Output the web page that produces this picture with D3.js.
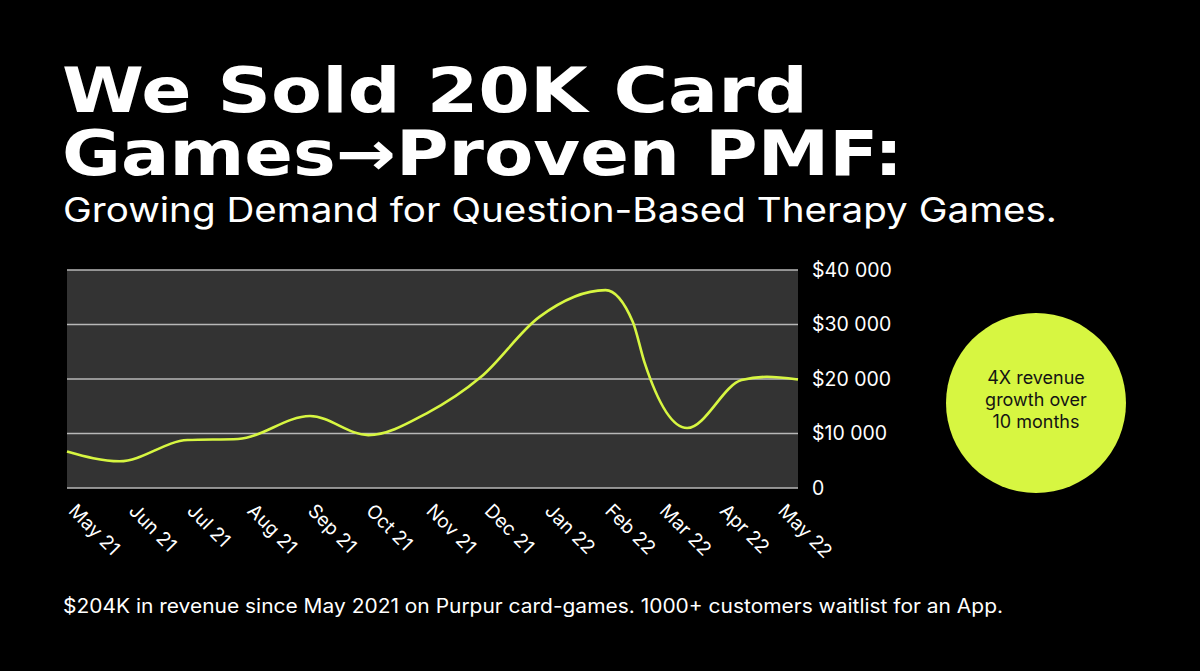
<!DOCTYPE html>
<html>
<head>
<meta charset="utf-8">
<script src="https://cdn.jsdelivr.net/npm/d3@7"></script>
<style>
  html, body { margin: 0; padding: 0; background: #000; }
  svg { display: block; }
</style>
</head>
<body>
<svg id="chart" width="1200" height="671"></svg>
<script>
// ---- data ----
const pointDates = ["2021-05-01","2021-05-28","2021-07-02","2021-07-28","2021-09-03","2021-10-03",
                    "2021-11-02","2021-11-30","2021-12-30","2022-02-02","2022-02-16","2022-02-22",
                    "2022-03-16","2022-04-13","2022-04-26","2022-05-12"];
const revenue = [6700, 4900, 8800, 9000, 13200, 9700,
                 13700, 20400, 31400, 36300, 30500, 23100,
                 11000, 19800, 20400, 19900];
const monthStarts = ["2021-05-01","2021-06-01","2021-07-01","2021-08-01","2021-09-01","2021-10-01",
                     "2021-11-01","2021-12-01","2022-01-01","2022-02-01","2022-03-01","2022-04-01","2022-05-01"];
const monthLabels = ["May 21","Jun 21","Jul 21","Aug 21","Sep 21","Oct 21",
                     "Nov 21","Dec 21","Jan 22","Feb 22","Mar 22","Apr 22","May 22"];
const yTicks = [0, 10000, 20000, 30000, 40000];
const yTickLabels = ["0", "$10 000", "$20 000", "$30 000", "$40 000"];
const domainEnd = "2022-05-12";

const titleLines = ["We Sold 20K Card", "Games\u2192Proven PMF:"];
const subtitle = "Growing Demand for Question-Based Therapy Games.";
const footnote = "$204K in revenue since May 2021 on Purpur card-games. 1000+ customers waitlist for an App.";
const badgeLines = ["4X revenue", "growth over", "10 months"];

// ---- layout ----
const svg = d3.select("#chart");
const W = 1200, H = 671;
const plot = { left: 67, right: 798, top: 270, bottom: 488 };
const lime = "#D7F641";
const parse = d3.utcParse("%Y-%m-%d");

svg.append("rect").attr("width", W).attr("height", H).attr("fill", "#000");

// Title (one text element, two lines)
const title = svg.append("text").attr("font-family", "DejaVu Sans").attr("font-weight", "bold")
  .attr("fill", "#fff").attr("font-size", 62);
title.append("tspan").attr("x", 62).attr("y", 112)
  .attr("textLength", 746).attr("lengthAdjust", "spacingAndGlyphs").text(titleLines[0]);
title.append("tspan").attr("x", 62).attr("y", 174.5)
  .attr("textLength", 841).attr("lengthAdjust", "spacingAndGlyphs").text(titleLines[1]);

svg.append("text").attr("x", 63).attr("y", 222).attr("font-family", "Inter").attr("font-size", 34)
  .attr("fill", "#fff").attr("textLength", 994).attr("lengthAdjust", "spacingAndGlyphs").text(subtitle);

// Scales
const x = d3.scaleUtc().domain([parse(pointDates[0]), parse(domainEnd)]).range([plot.left, plot.right]);
const y = d3.scaleLinear().domain([0, 40000]).range([plot.bottom, plot.top]);

// Plot background
svg.append("rect").attr("x", plot.left).attr("y", plot.top)
  .attr("width", plot.right - plot.left).attr("height", plot.bottom - plot.top).attr("fill", "#333333");

// Gridlines
svg.append("g").selectAll("line").data(yTicks).join("line")
  .attr("x1", plot.left).attr("x2", plot.right)
  .attr("y1", d => y(d)).attr("y2", d => y(d))
  .attr("stroke", "#b8b8b8").attr("stroke-width", 1.5);

// Y axis (right side)
const yAxis = d3.axisRight(y).tickValues(yTicks).tickSize(0).tickPadding(14)
  .tickFormat((d, i) => yTickLabels[i]);
const gy = svg.append("g").attr("transform", `translate(${plot.right},0)`).call(yAxis);
gy.select(".domain").remove();
gy.selectAll("text").attr("fill", "#fff").attr("font-family", "Inter").attr("font-size", 19.5);

// X axis
const xAxis = d3.axisBottom(x).tickValues(monthStarts.map(parse)).tickSize(0)
  .tickFormat((d, i) => monthLabels[i]);
const gx = svg.append("g").attr("transform", `translate(0,${plot.bottom})`).call(xAxis);
gx.select(".domain").remove();
gx.selectAll("text")
  .attr("fill", "#fff").attr("font-family", "Inter").attr("font-size", 19)
  .attr("text-anchor", "start").attr("dy", 0).attr("y", 0)
  .attr("transform", "translate(0,24) rotate(45)");

// Line
const line = d3.line().x((d, i) => x(parse(pointDates[i]))).y(d => y(d)).curve(d3.curveMonotoneX);
svg.append("path").datum(revenue).attr("d", line)
  .attr("fill", "none").attr("stroke", lime).attr("stroke-width", 2.6);

// Badge
const cx = 1036, cy = 403;
svg.append("circle").attr("cx", cx).attr("cy", cy).attr("r", 90).attr("fill", lime);
const badge = svg.append("text").attr("text-anchor", "middle").attr("font-family", "Inter")
  .attr("font-size", 18).attr("fill", "#141414");
badge.selectAll("tspan").data(badgeLines).join("tspan")
  .attr("x", cx).attr("y", (d, i) => 384 + i * 22).text(d => d);

// Footnote
svg.append("text").attr("x", 63).attr("y", 613).attr("font-family", "Inter").attr("font-size", 19.5)
  .attr("fill", "#fff").attr("textLength", 940).attr("lengthAdjust", "spacingAndGlyphs").text(footnote);
</script>
</body>
</html>
